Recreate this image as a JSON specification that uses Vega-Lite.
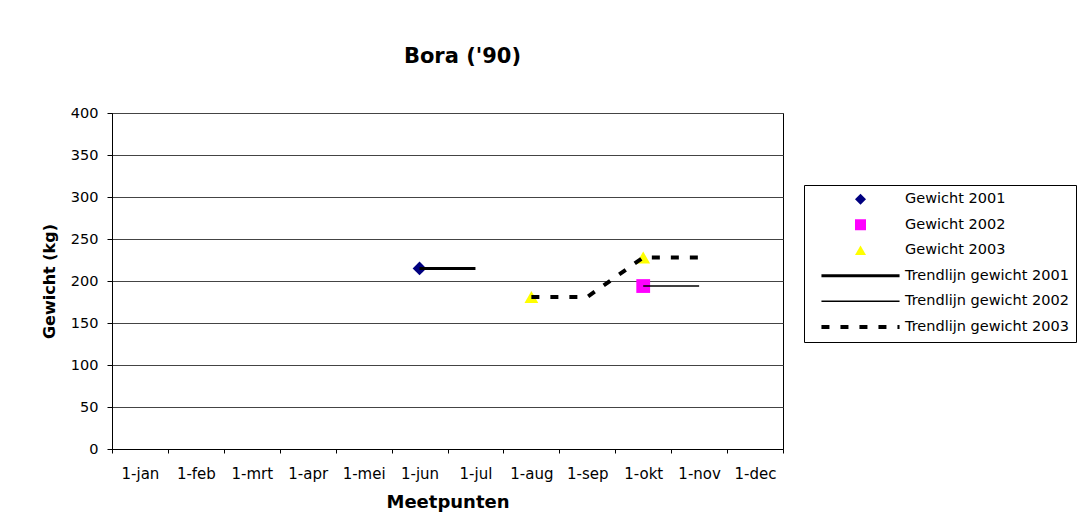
{
  "$schema": "https://vega.github.io/schema/vega-lite/v6.json",
  "width": 671,
  "height": 336,
  "autosize": "none",
  "padding": {"left": 112, "top": 113, "right": 302, "bottom": 66},
  "background": "white",
  "title": {
    "text": "Bora ('90)",
    "font": "DejaVu Sans",
    "fontSize": 21,
    "fontWeight": "bold",
    "color": "black",
    "anchor": "middle",
    "frame": "group",
    "dx": 15,
    "offset": 38
  },
  "data": {
    "values": [
      {"kind": "point", "series": "Gewicht 2001", "month": "1-jun", "m": 6, "value": 215},
      {"kind": "point", "series": "Gewicht 2002", "month": "1-okt", "m": 10, "value": 194},
      {"kind": "point", "series": "Gewicht 2003", "month": "1-aug", "m": 8, "value": 181},
      {"kind": "point", "series": "Gewicht 2003", "month": "1-okt", "m": 10, "value": 228},
      {"kind": "trend", "series": "Trendlijn gewicht 2001", "month": "1-jun", "m": 6, "value": 215},
      {"kind": "trend", "series": "Trendlijn gewicht 2001", "month": "1-jul", "m": 7, "value": 215},
      {"kind": "trend", "series": "Trendlijn gewicht 2002", "month": "1-okt", "m": 10, "value": 194},
      {"kind": "trend", "series": "Trendlijn gewicht 2002", "month": "1-nov", "m": 11, "value": 194},
      {"kind": "trend", "series": "Trendlijn gewicht 2003", "month": "1-aug", "m": 8, "value": 181},
      {"kind": "trend", "series": "Trendlijn gewicht 2003", "month": "1-sep", "m": 9, "value": 181},
      {"kind": "trend", "series": "Trendlijn gewicht 2003", "month": "1-okt", "m": 10, "value": 228},
      {"kind": "trend", "series": "Trendlijn gewicht 2003", "month": "1-nov", "m": 11, "value": 228}
    ]
  },
  "encoding": {
    "x": {
      "field": "month",
      "type": "ordinal",
      "scale": {
        "type": "band",
        "domain": ["1-jan", "1-feb", "1-mrt", "1-apr", "1-mei", "1-jun", "1-jul", "1-aug", "1-sep", "1-okt", "1-nov", "1-dec"],
        "paddingInner": 0,
        "paddingOuter": 0
      },
      "axis": {
        "title": "Meetpunten",
        "tickBand": "extent",
        "grid": false,
        "tickSize": 4,
        "tickColor": "black",
        "domainColor": "black",
        "labelAngle": 0,
        "labelPadding": 13,
        "labelFont": "DejaVu Sans",
        "labelFontSize": 15,
        "labelColor": "black",
        "titleFont": "DejaVu Sans",
        "titleFontSize": 18,
        "titleFontWeight": "bold",
        "titleColor": "black",
        "titlePadding": 12
      }
    },
    "y": {
      "field": "value",
      "type": "quantitative",
      "scale": {"domain": [0, 400], "nice": false},
      "axis": {
        "title": "Gewicht (kg)",
        "values": [0, 50, 100, 150, 200, 250, 300, 350, 400],
        "grid": true,
        "gridColor": "#444444",
        "gridWidth": 1,
        "tickSize": 5,
        "tickColor": "black",
        "domainColor": "black",
        "labelPadding": 9,
        "labelFont": "DejaVu Sans",
        "labelFontSize": 14.5,
        "labelColor": "black",
        "titleFont": "DejaVu Sans",
        "titleFontSize": 16,
        "titleFontWeight": "bold",
        "titleColor": "black",
        "titlePadding": 13
      }
    }
  },
  "layer": [
    {
      "transform": [{"filter": "datum.kind === 'point'"}],
      "mark": {"type": "point", "filled": true, "size": 190, "opacity": 1, "strokeWidth": 0},
      "encoding": {
        "color": {
          "field": "series",
          "type": "nominal",
          "scale": {
            "domain": ["Gewicht 2001", "Gewicht 2002", "Gewicht 2003", "Trendlijn gewicht 2001", "Trendlijn gewicht 2002", "Trendlijn gewicht 2003"],
            "range": ["#000080", "#FF00FF", "#FFFF00", "#000000", "#000000", "#000000"]
          },
          "legend": {"title": null, "orient": "none", "legendX": 692, "legendY": 72}
        },
        "shape": {
          "field": "series",
          "type": "nominal",
          "scale": {
            "domain": ["Gewicht 2001", "Gewicht 2002", "Gewicht 2003", "Trendlijn gewicht 2001", "Trendlijn gewicht 2002", "Trendlijn gewicht 2003"],
            "range": ["diamond", "square", "triangle-up", "M-7.1,0H7.1", "M-7.1,0H7.1", "M-7.1,0H7.1"]
          },
          "legend": {"title": null, "orient": "none", "legendX": 692, "legendY": 72}
        }
      }
    },
    {
      "transform": [{"filter": "datum.kind === 'trend'"}],
      "mark": {"type": "line", "color": "black"},
      "encoding": {
        "strokeDash": {
          "field": "series",
          "type": "nominal",
          "scale": {
            "domain": ["Gewicht 2001", "Gewicht 2002", "Gewicht 2003", "Trendlijn gewicht 2001", "Trendlijn gewicht 2002", "Trendlijn gewicht 2003"],
            "range": [[1, 0], [1, 0], [1, 0], [1, 0], [1, 0], [8, 11]]
          },
          "legend": {"title": null, "orient": "none", "legendX": 692, "legendY": 72}
        },
        "strokeWidth": {
          "field": "series",
          "type": "nominal",
          "scale": {
            "type": "ordinal",
            "domain": ["Gewicht 2001", "Gewicht 2002", "Gewicht 2003", "Trendlijn gewicht 2001", "Trendlijn gewicht 2002", "Trendlijn gewicht 2003"],
            "range": [0, 0, 0, 3, 1.5, 4]
          },
          "legend": {"title": null, "orient": "none", "legendX": 692, "legendY": 72}
        },
        "order": {"field": "m", "type": "quantitative"}
      }
    }
  ],
  "config": {
    "view": {"stroke": "black", "strokeWidth": 1},
    "legend": {
      "padding": 7,
      "strokeColor": "black",
      "fillColor": "white",
      "symbolSize": 121,
      "symbolStrokeColor": "black",
      "symbolOffset": 42,
      "labelOffset": 37,
      "labelFont": "DejaVu Sans",
      "labelFontSize": 14.5,
      "labelColor": "black",
      "labelLimit": 400,
      "rowPadding": 10.5
    }
  }
}
